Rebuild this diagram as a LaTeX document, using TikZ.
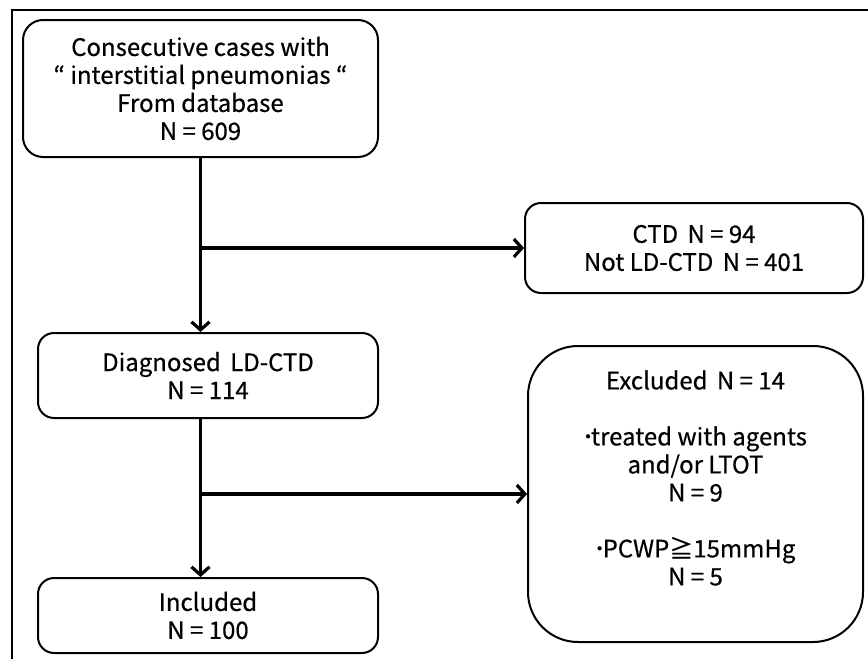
\documentclass[tikz,border=0pt]{standalone}
\usepackage{fontspec}
\setmainfont{Noto Sans CJK JP}[FakeBold=0.5]
\usetikzlibrary{arrows.meta}
\begin{document}
\begin{tikzpicture}[x=0.5pt,y=-0.5pt,>={Straight Barb[length=4pt,width=9pt]},
    font=\fontsize{12}{14}\selectfont,
    box/.style={draw,line width=1pt,align=center,inner sep=0pt},
    flow/.style={line width=1.6pt}]
        \useasboundingbox (0,0) rectangle (868,659);
        \clip (0,0) rectangle (868,659);
        %frame
        \draw[line width=1pt] (12,10) rectangle (900,700);
        %left column
        \node[box,rounded corners=10pt,minimum width=177.5pt,minimum height=68.5pt] (top) at (200.5,88.5)
            {Consecutive cases with\\“ interstitial pneumonias “\\From database\\N = 609};
        \node[box,rounded corners=8pt,minimum width=170pt,minimum height=42.5pt] (diag) at (208,375.5)
            {Diagnosed\ \,LD-CTD\\N = 114};
        \node[box,rounded corners=8pt,minimum width=170pt,minimum height=37.5pt] (incl) at (208,615.5)
            {Included\\N = 100};
        %right column
        \node[box,rounded corners=8pt,minimum width=169pt,minimum height=45pt] (ctd) at (694,248)
            {CTD\ \,N = 94\\Not LD-CTD\ \,N = 401};
        \node[box,rounded corners=25pt,minimum width=167.5pt,minimum height=148pt] (excl) at (695.5,494) {};
        \node[align=center] (excltxt) at (695.5,478)
            {Excluded\ \,N = 14\\[14pt]\kern-1pt･\kern-1.5pt treated with agents\\and/or LTOT\\N = 9\\[14pt]\kern-1pt･\kern-1.5pt PCWP≧15mmHg\\N = 5};
        %arrows
        \draw[flow,->] (top.south) -- (top.south |- diag.north);
        \draw[flow,->] (top.south |- ctd.west) -- (ctd.west);
        \draw[flow,->] (top.south |- diag.south) -- (top.south |- incl.north);
        \draw[flow,->] (top.south |- excl.west) -- (excl.west);
\end{tikzpicture}
\end{document}
